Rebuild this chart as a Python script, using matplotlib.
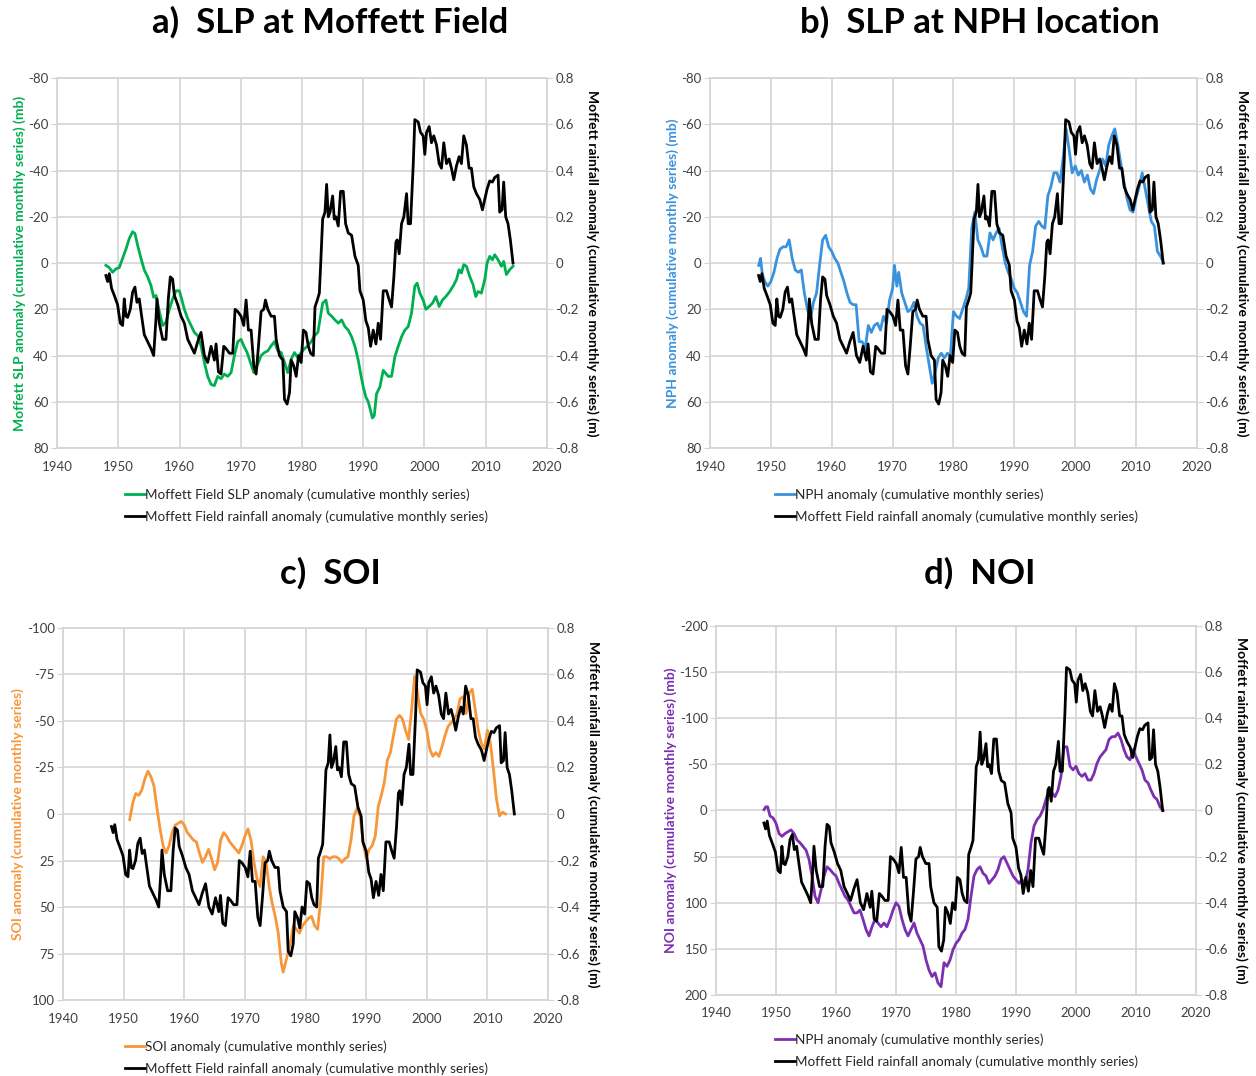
import matplotlib
matplotlib.use("Agg")
import matplotlib.pyplot as plt
from matplotlib.ticker import FuncFormatter

plt.rcParams['font.family'] = ['Lato', 'DejaVu Sans']

# ---- Moffett Field rainfall anomaly, cumulative monthly series (m) ----
rain_years = [1947.98, 1948.26, 1948.53, 1948.91, 1949.35, 1949.89, 1950.33, 1950.71,
              1950.98, 1951.25, 1951.53, 1951.96, 1952.34, 1952.72, 1953.05, 1953.43,
              1953.71, 1954.25, 1954.80, 1955.34, 1955.78, 1956.16, 1956.32, 1956.70,
              1957.25, 1957.79, 1958.17, 1958.50, 1958.88, 1959.16, 1959.70, 1960.25,
              1960.79, 1961.34, 1961.88, 1962.43, 1962.97, 1963.51, 1964.06, 1964.60,
              1965.15, 1965.69, 1965.97, 1966.35, 1966.78, 1967.22, 1967.60, 1968.15,
              1968.69, 1969.07, 1969.51, 1970.05, 1970.49, 1970.87, 1971.25, 1971.69,
              1972.13, 1972.51, 1972.89, 1973.32, 1973.76, 1974.03, 1974.41, 1974.96,
              1975.50, 1975.78, 1976.32, 1976.87, 1977.14, 1977.57, 1977.96, 1978.23,
              1978.66, 1979.05, 1979.43, 1979.86, 1980.22, 1980.65, 1981.03, 1981.41,
              1981.85, 1982.12, 1982.50, 1982.83, 1983.04, 1983.37, 1983.75, 1984.02,
              1984.29, 1984.57, 1985.00, 1985.27, 1985.54, 1985.92, 1986.30, 1986.74,
              1987.12, 1987.55, 1988.10, 1988.64, 1989.18, 1989.46, 1990.00, 1990.43,
              1990.82, 1991.20, 1991.63, 1992.07, 1992.45, 1992.83, 1993.26, 1993.80,
              1994.24, 1994.62, 1995.00, 1995.33, 1995.54, 1995.87, 1996.25, 1996.63,
              1997.07, 1997.34, 1997.72, 1998.15, 1998.42, 1998.97, 1999.35, 1999.78,
              2000.05, 2000.33, 2000.76, 2001.14, 2001.52, 2001.96, 2002.39, 2002.77,
              2003.15, 2003.59, 2004.02, 2004.40, 2004.78, 2005.22, 2005.65, 2006.03,
              2006.41, 2006.85, 2007.28, 2007.66, 2008.04, 2008.48, 2009.02, 2009.46,
              2009.84, 2010.22, 2010.65, 2011.09, 2011.47, 2012.01, 2012.28, 2012.66,
              2012.93, 2013.26, 2013.64, 2014.02, 2014.45]
rain_vals = [-0.054, -0.08, -0.046, -0.11, -0.14, -0.18, -0.26, -0.27,
             -0.155, -0.23, -0.235, -0.20, -0.126, -0.104, -0.17, -0.155,
             -0.21, -0.31, -0.34, -0.37, -0.40, -0.24, -0.155, -0.26,
             -0.33, -0.33, -0.155, -0.06, -0.07, -0.14, -0.18, -0.23,
             -0.26, -0.33, -0.36, -0.39, -0.34, -0.30, -0.40, -0.43,
             -0.36, -0.42, -0.35, -0.47, -0.48, -0.36, -0.37, -0.39,
             -0.39, -0.20, -0.21, -0.23, -0.27, -0.16, -0.29, -0.29,
             -0.445, -0.48, -0.36, -0.21, -0.20, -0.16, -0.20, -0.23,
             -0.23, -0.33, -0.40, -0.42, -0.59, -0.61, -0.56, -0.42,
             -0.445, -0.49, -0.40, -0.43, -0.29, -0.30, -0.36, -0.39,
             -0.40, -0.19, -0.16, -0.13, -0.01, 0.19, 0.22, 0.34,
             0.20, 0.22, 0.29, 0.19, 0.20, 0.16, 0.31, 0.31,
             0.17, 0.13, 0.12, 0.03, -0.01, -0.12, -0.16, -0.25,
             -0.28, -0.36, -0.29, -0.35, -0.26, -0.33, -0.12, -0.12,
             -0.16, -0.19, -0.06, 0.09, 0.10, 0.04, 0.17, 0.20,
             0.30, 0.17, 0.17, 0.42, 0.62, 0.61, 0.565, 0.55,
             0.47, 0.565, 0.59, 0.52, 0.55, 0.51, 0.43, 0.41,
             0.52, 0.43, 0.45, 0.41, 0.36, 0.42, 0.46, 0.43,
             0.55, 0.51, 0.41, 0.41, 0.33, 0.30, 0.275, 0.23,
             0.275, 0.32, 0.355, 0.35, 0.37, 0.38, 0.22, 0.23,
             0.35, 0.20, 0.17, 0.10, 0.0]

# ---- Moffett Field SLP anomaly, cumulative monthly series (mb) ----
slp_years = [1947.98, 1948.53, 1949.07, 1949.62, 1950.16, 1950.71, 1951.25, 1951.80,
             1952.34, 1952.72, 1953.16, 1953.71, 1954.25, 1954.80, 1955.34, 1955.78,
             1956.16, 1956.70, 1957.25, 1957.79, 1958.34, 1958.88, 1959.43, 1959.97,
             1960.35, 1960.79, 1961.34, 1961.88, 1962.43, 1962.97, 1963.51, 1964.06,
             1964.60, 1965.15, 1965.69, 1966.24, 1966.78, 1967.33, 1967.87, 1968.42,
             1968.96, 1969.51, 1970.05, 1970.49, 1971.04, 1971.58, 1972.13, 1972.67,
             1973.32, 1973.87, 1974.41, 1974.96, 1975.50, 1976.05, 1976.59, 1977.14,
             1977.68, 1978.23, 1978.77, 1979.32, 1979.86, 1980.41, 1980.95, 1981.50,
             1982.04, 1982.59, 1983.37, 1983.91, 1984.29, 1984.84, 1985.38, 1985.92,
             1986.47, 1987.01, 1987.55, 1988.10, 1988.64, 1989.18, 1989.57, 1990.00,
             1990.43, 1990.82, 1991.20, 1991.50, 1991.80, 1992.17, 1992.72, 1993.26,
             1993.70, 1994.08, 1994.62, 1995.16, 1995.71, 1996.25, 1996.79, 1997.34,
             1997.88, 1998.42, 1998.80, 1999.24, 1999.78, 2000.22, 2000.76, 2001.30,
             2001.85, 2002.39, 2002.93, 2003.48, 2004.13, 2004.67, 2005.22, 2005.65,
             2006.03, 2006.41, 2006.85, 2007.39, 2007.93, 2008.37, 2008.75, 2009.29,
             2009.84, 2010.22, 2010.65, 2011.09, 2011.47, 2012.01, 2012.55, 2012.93,
             2013.37, 2013.91, 2014.45]
slp_vals = [1, 2, 4, 2.5, 2, -2, -6, -10.6,
            -13.5, -12.8, -7.7, -2, 3, 6, 9.7, 14.8,
            14, 21, 27, 25.6, 20, 15.5, 12, 12,
            15.5, 20, 24, 27, 30, 31.4, 35.8, 43,
            49, 52.5, 53, 49, 50, 48, 49, 47.4,
            40, 34, 33, 35.8, 38.7, 43, 47.4, 44.5,
            40, 38.7, 38, 35.8, 34, 38, 38.7, 43,
            47.4, 41.6, 38.7, 41, 38.7, 37, 35.8, 34,
            31.4, 30, 17.4, 16, 21.7, 23, 24.6, 26,
            24.6, 27.5, 29, 31.9, 36, 42, 47.8, 53.6,
            58, 60, 64, 67, 66, 56.5, 53.6, 46.4,
            47.8, 49, 49, 40.6, 36, 31.9, 29, 27.5,
            21.7, 10, 8.7, 13, 16, 20, 18.8, 17.4,
            14.5, 18.8, 16, 14.5, 12.3, 10, 7.2, 2.9,
            4.3, 0.7, 1.4, 5.8, 9.4, 14.5, 12.3, 13,
            7.2, 0, -2.9, -1.4, -3.6, -1.4, 1.4, -0.7,
            5, 2.9, 1.4]

# ---- NPH anomaly, cumulative monthly series (mb) ----
nph_years = [1948.0, 1948.3, 1948.6, 1949.0, 1949.5, 1950.0, 1950.5, 1951.0, 1951.5,
             1952.0, 1952.5, 1953.0, 1953.5, 1954.0, 1954.5, 1955.0, 1955.5, 1956.0,
             1956.5, 1957.0, 1957.5, 1958.0, 1958.5, 1959.0, 1959.5, 1960.0, 1960.5,
             1961.0, 1961.5, 1962.0, 1962.5, 1963.0, 1963.5, 1964.0, 1964.5, 1965.0,
             1965.5, 1966.0, 1966.5, 1967.0, 1967.5, 1968.0, 1968.5, 1969.0, 1969.5,
             1970.0, 1970.3, 1970.7, 1971.0, 1971.5, 1972.0, 1972.5, 1973.0, 1973.5,
             1974.0, 1974.5, 1975.0, 1975.5, 1976.0, 1976.5, 1977.0, 1977.5, 1978.0,
             1978.5, 1979.0, 1979.5, 1980.0, 1980.5, 1981.0, 1981.5, 1982.0, 1982.5,
             1983.0, 1983.5, 1984.0, 1984.5, 1985.0, 1985.5, 1986.0, 1986.5, 1987.0,
             1987.5, 1988.0, 1988.5, 1989.0, 1989.5, 1990.0, 1990.5, 1991.0, 1991.5,
             1992.0, 1992.5, 1993.0, 1993.5, 1994.0, 1994.5, 1995.0, 1995.5, 1996.0,
             1996.5, 1997.0, 1997.5, 1998.0, 1998.5, 1999.0, 1999.5, 2000.0, 2000.5,
             2001.0, 2001.5, 2002.0, 2002.5, 2003.0, 2003.5, 2004.0, 2004.5, 2005.0,
             2005.5, 2006.0, 2006.5, 2007.0, 2007.5, 2008.0, 2008.5, 2009.0, 2009.5,
             2010.0, 2010.5, 2011.0, 2011.5, 2012.0, 2012.5, 2013.0, 2013.5, 2014.0,
             2014.5]
nph_vals = [1, -2, 5, 8, 10, 8, 4, -2, -6,
            -7, -7, -10, -2, 3, 4, 3, 13, 20,
            24, 17, 13, 1, -10, -12, -7, -5, -2,
            0, 4, 8, 13, 17, 18, 18, 34, 34,
            37, 27, 30, 27, 26, 29, 23, 26, 16,
            11, 1, 10, 4, 13, 17, 21, 20, 17,
            23, 26, 27, 36, 44, 52, 47, 41, 39,
            41, 39, 40, 21, 23, 24, 20, 16, 11,
            -15, -22, -10, -7, -3, -3, -13, -10, -13,
            -15, -7, 0, 4, 7, 11, 13, 17, 21,
            23, 1, -5, -16, -18, -16, -15, -29, -33,
            -39, -39, -35, -45, -58, -49, -39, -42, -38,
            -40, -35, -38, -32, -30, -36, -40, -45, -42,
            -51, -55, -58, -51, -43, -35, -28, -23, -22,
            -28, -33, -39, -32, -25, -18, -16, -5, -3,
            0]

# ---- SOI anomaly, cumulative monthly series ----
soi_years = [1951.0, 1951.5, 1952.0, 1952.5, 1953.0, 1953.5, 1954.0, 1954.5, 1955.0,
             1955.5, 1956.0, 1956.5, 1957.0, 1957.5, 1958.0, 1958.5, 1959.0, 1959.5,
             1960.0, 1960.5, 1961.0, 1961.5, 1962.0, 1962.5, 1963.0, 1963.5, 1964.0,
             1964.5, 1965.0, 1965.5, 1966.0, 1966.5, 1967.0, 1967.5, 1968.0, 1968.5,
             1969.0, 1969.5, 1970.0, 1970.5, 1971.0, 1971.5, 1972.0, 1972.5, 1973.0,
             1973.5, 1974.0, 1974.5, 1975.0, 1975.5, 1976.0, 1976.3, 1976.7, 1977.0,
             1977.5, 1978.0, 1978.5, 1979.0, 1979.5, 1980.0, 1980.5, 1981.0, 1981.5,
             1982.0, 1982.5, 1983.0, 1983.5, 1984.0, 1984.5, 1985.0, 1985.5, 1986.0,
             1986.5, 1987.0, 1987.5, 1988.0, 1988.5, 1989.0, 1989.5, 1990.0, 1990.5,
             1991.0, 1991.5, 1992.0, 1992.5, 1993.0, 1993.5, 1994.0, 1994.5, 1995.0,
             1995.5, 1996.0, 1996.5, 1997.0, 1997.5, 1998.0, 1998.3, 1998.7, 1999.0,
             1999.5, 2000.0, 2000.5, 2001.0, 2001.5, 2002.0, 2002.5, 2003.0, 2003.5,
             2004.0, 2004.5, 2005.0, 2005.5, 2006.0, 2006.5, 2007.0, 2007.5, 2008.0,
             2008.5, 2009.0, 2009.5, 2010.0, 2010.5, 2011.0, 2011.5, 2012.0, 2012.5,
             2013.0]
soi_vals = [3, -6, -11, -10, -13, -19, -23, -20, -15,
            -3, 8, 17, 21, 17, 10, 6, 5, 4,
            6, 10, 12, 14, 15, 21, 26, 23, 19,
            24, 30, 26, 14, 10, 12, 15, 17, 19,
            21, 17, 12, 8, 14, 26, 35, 39, 23,
            26, 39, 48, 55, 64, 80, 85, 80, 76,
            69, 60, 62, 64, 60, 58, 56, 55, 60,
            62, 46, 23, 23, 24, 23, 23, 24, 26,
            24, 23, 14, 1, -3, 1, 15, 24, 19,
            17, 12, -4, -10, -17, -29, -33, -42, -51,
            -53, -51, -45, -40, -56, -74, -69, -60, -54,
            -51, -45, -35, -31, -33, -31, -36, -42, -47,
            -49, -51, -54, -62, -63, -54, -65, -67, -56,
            -45, -38, -35, -45, -38, -24, -8, 1, -1,
            0]

# ---- NOI anomaly, cumulative monthly series (mb) ----
noi_years = [1948.0, 1948.3, 1948.6, 1949.0, 1949.5, 1950.0, 1950.5, 1951.0, 1951.5,
             1952.0, 1952.5, 1953.0, 1953.5, 1954.0, 1954.5, 1955.0, 1955.5, 1956.0,
             1956.5, 1957.0, 1957.5, 1958.0, 1958.5, 1959.0, 1959.5, 1960.0, 1960.5,
             1961.0, 1961.5, 1962.0, 1962.5, 1963.0, 1963.5, 1964.0, 1964.5, 1965.0,
             1965.5, 1966.0, 1966.5, 1967.0, 1967.5, 1968.0, 1968.5, 1969.0, 1969.5,
             1970.0, 1970.5, 1971.0, 1971.5, 1972.0, 1972.5, 1973.0, 1973.5, 1974.0,
             1974.5, 1975.0, 1975.5, 1976.0, 1976.5, 1977.0, 1977.5, 1978.0, 1978.5,
             1979.0, 1979.5, 1980.0, 1980.5, 1981.0, 1981.5, 1982.0, 1982.5, 1983.0,
             1983.5, 1984.0, 1984.5, 1985.0, 1985.5, 1986.0, 1986.5, 1987.0, 1987.5,
             1988.0, 1988.5, 1989.0, 1989.5, 1990.0, 1990.5, 1991.0, 1991.5, 1992.0,
             1992.5, 1993.0, 1993.5, 1994.0, 1994.5, 1995.0, 1995.5, 1996.0, 1996.5,
             1997.0, 1997.5, 1998.0, 1998.5, 1999.0, 1999.5, 2000.0, 2000.5, 2001.0,
             2001.5, 2002.0, 2002.5, 2003.0, 2003.5, 2004.0, 2004.5, 2005.0, 2005.5,
             2006.0, 2006.5, 2007.0, 2007.5, 2008.0, 2008.5, 2009.0, 2009.5, 2010.0,
             2010.5, 2011.0, 2011.5, 2012.0, 2012.5, 2013.0, 2013.5, 2014.0, 2014.5]
noi_vals = [-1, -4, -4, 6, 8, 14, 25, 28, 25,
            23, 21, 25, 32, 35, 39, 43, 53, 71,
            93, 100, 86, 71, 61, 64, 68, 71, 79,
            86, 93, 97, 104, 111, 111, 108, 118, 129,
            136, 126, 118, 122, 126, 122, 126, 118, 108,
            100, 104, 118, 129, 136, 129, 122, 133, 140,
            147, 162, 173, 180, 176, 187, 191, 165, 169,
            162, 151, 144, 140, 133, 129, 118, 93, 71,
            64, 61, 68, 71, 79, 75, 71, 64, 53,
            50, 57, 64, 71, 75, 79, 75, 79, 64,
            35, 17, 10, 6, -1, -12, -22, -19, -15,
            -22, -37, -69, -69, -48, -44, -48, -40, -37,
            -40, -33, -33, -40, -51, -58, -62, -66, -77,
            -80, -80, -84, -77, -66, -58, -55, -66, -58,
            -51, -44, -33, -30, -22, -15, -12, -4, 0]

year_ticks = [1940, 1950, 1960, 1970, 1980, 1990, 2000, 2010, 2020]
rain_ticks = [-0.8, -0.6, -0.4, -0.2, 0.0, 0.2, 0.4, 0.6, 0.8]

RAIN_AXIS_LABEL = "Moffett rainfall anomaly (cumulative monthly series) (m)"
RAIN_LEGEND = "Moffett Field rainfall anomaly (cumulative monthly series)"

GRID = "#d4d4d4"
TICK_TXT = "#404040"
TICK_SIZE = 9.5
LABEL_SIZE = 10
LEGEND_SIZE = 9.7
TITLE_SIZE = 25
LW = 2.0

panels = [
    dict(title="a)  SLP at Moffett Field", rect=[0.0454, 0.5836, 0.3901, 0.3439],
         x=slp_years, y=slp_vals, color="#00b050", lim=80, step=20,
         ylabel="Moffett SLP anomaly (cumulative monthly series) (mb)",
         legend="Moffett Field SLP anomaly (cumulative monthly series)",
         title_xy=(0.263, 0.979), leg_xy=(0.0995, 0.5465)),
    dict(title="b)  SLP at NPH location", rect=[0.5653, 0.5836, 0.3877, 0.3439],
         x=nph_years, y=nph_vals, color="#3a92dc", lim=80, step=20,
         ylabel="NPH anomaly (cumulative monthly series) (mb)",
         legend="NPH anomaly (cumulative monthly series)",
         title_xy=(0.780, 0.979), leg_xy=(0.617, 0.5465)),
    dict(title="c)  SOI", rect=[0.0502, 0.0706, 0.3861, 0.3458],
         x=soi_years, y=soi_vals, color="#f7963a", lim=100, step=25,
         ylabel="SOI anomaly (cumulative monthly series)",
         legend="SOI anomaly (cumulative monthly series)",
         title_xy=(0.263, 0.467), leg_xy=(0.0995, 0.0335)),
    dict(title="d)  NOI", rect=[0.5701, 0.0753, 0.3821, 0.3429],
         x=noi_years, y=noi_vals, color="#7c2fb0", lim=200, step=50,
         ylabel="NOI anomaly (cumulative monthly series) (mb)",
         legend="NPH anomaly (cumulative monthly series)",
         title_xy=(0.780, 0.467), leg_xy=(0.617, 0.040)),
]


def fmt_num(v, _pos=None):
    if abs(v) < 1e-9:
        return "0"
    return f"{v:g}"


fig = plt.figure(figsize=(12.56, 10.76), dpi=100)
fig.patch.set_facecolor("white")

for p in panels:
    ax = fig.add_axes(p["rect"])
    ax.set_xlim(1940, 2020)
    ax.set_ylim(p["lim"], -p["lim"])
    ax.set_xticks(year_ticks)
    ax.set_yticks(list(range(-p["lim"], p["lim"] + 1, p["step"])))
    ax.yaxis.set_major_formatter(FuncFormatter(fmt_num))
    ax.grid(True, color=GRID, linewidth=1.2)
    ax.set_axisbelow(True)
    for s in ax.spines.values():
        s.set_color(GRID)
        s.set_linewidth(1.2)
    ax.tick_params(axis="x", length=0, labelsize=TICK_SIZE, labelcolor=TICK_TXT, pad=9)
    ax.tick_params(axis="y", length=4, color=GRID, labelsize=TICK_SIZE,
                   labelcolor=TICK_TXT, pad=2)
    line1, = ax.plot(p["x"], p["y"], color=p["color"], lw=LW, zorder=3)
    ax.set_ylabel(p["ylabel"], color=p["color"], fontsize=LABEL_SIZE,
                  fontweight="bold", labelpad=2)

    ax2 = ax.twinx()
    ax2.set_ylim(-0.8, 0.8)
    ax2.set_yticks(rain_ticks)
    ax2.yaxis.set_major_formatter(FuncFormatter(fmt_num))
    for s in ax2.spines.values():
        s.set_visible(False)
    ax2.tick_params(axis="y", length=4, color=GRID, labelsize=TICK_SIZE,
                    labelcolor=TICK_TXT, pad=2)
    line2, = ax2.plot(rain_years, rain_vals, color="black", lw=LW, zorder=4)
    ax2.set_ylabel(RAIN_AXIS_LABEL, color="black", fontsize=LABEL_SIZE,
                   fontweight="bold", rotation=-90, labelpad=14)

    fig.text(p["title_xy"][0], p["title_xy"][1], p["title"], ha="center",
             va="center", fontsize=TITLE_SIZE, fontweight="bold")

    fig.legend([line1, line2], [p["legend"], RAIN_LEGEND],
               loc="upper left", bbox_to_anchor=p["leg_xy"],
               bbox_transform=fig.transFigure, frameon=False, fontsize=LEGEND_SIZE,
               handlelength=1.5, handletextpad=0.0, labelspacing=0.75,
               borderaxespad=0, borderpad=0, labelcolor="#262626")

fig.savefig("out.png", dpi=100, facecolor="white")
